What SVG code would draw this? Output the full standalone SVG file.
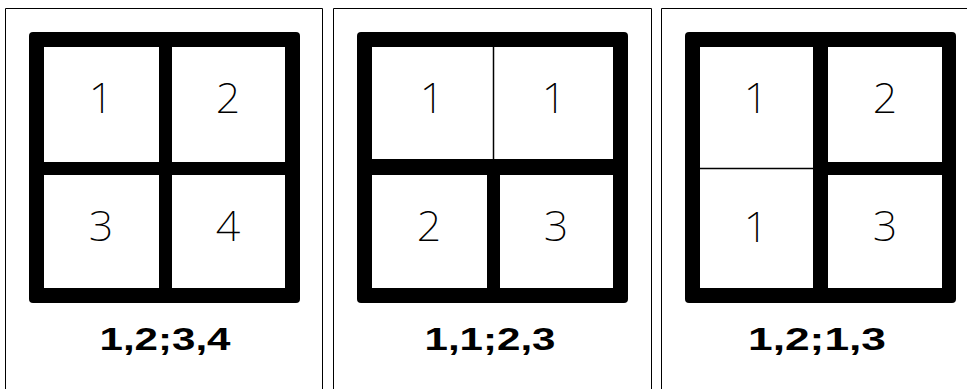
<svg xmlns="http://www.w3.org/2000/svg" width="967" height="389" viewBox="0 0 967 389">
<style>
.frame{fill:none;stroke:#000;stroke-width:1}
.cell{fill:#fff}
.d{font-family:"Noto Sans","Liberation Sans",sans-serif;font-weight:200;font-size:43px;text-anchor:middle;fill:#000}
.lbl{font-family:"Liberation Sans",Arial,sans-serif;font-weight:bold;font-size:31px;text-anchor:middle;fill:#000}
.thin{stroke:#000;stroke-width:1.5}
</style>
<rect width="967" height="389" fill="#fff"/>
<g id="panel1">
<path class="frame" d="M5.5 395V8.5H322.5V395"/>
<rect x="29" y="32" width="271" height="271" rx="4"/>
<rect class="cell" x="44" y="47" width="115" height="115"/>
<rect class="cell" x="172" y="47" width="113" height="115"/>
<rect class="cell" x="44" y="175" width="115" height="113"/>
<rect class="cell" x="172" y="175" width="113" height="113"/>
<text class="d" x="101" y="113">1</text>
<text class="d" x="228" y="113">2</text>
<text class="d" x="101" y="241">3</text>
<text class="d" x="228" y="241">4</text>
<text class="lbl" x="165" y="350" textLength="131" lengthAdjust="spacingAndGlyphs">1,2;3,4</text>
</g>
<g id="panel2">
<path class="frame" d="M333.5 395V8.5H651.5V395"/>
<rect x="357" y="32" width="271" height="271" rx="4"/>
<rect class="cell" x="372" y="47" width="241" height="112"/>
<line class="thin" x1="493.5" y1="47" x2="493.5" y2="159"/>
<rect class="cell" x="372" y="175" width="115" height="113"/>
<rect class="cell" x="500" y="175" width="113" height="113"/>
<text class="d" x="432" y="113">1</text>
<text class="d" x="554" y="113">1</text>
<text class="d" x="429" y="241">2</text>
<text class="d" x="556" y="241">3</text>
<text class="lbl" x="490" y="350" textLength="131" lengthAdjust="spacingAndGlyphs">1,1;2,3</text>
</g>
<g id="panel3">
<path class="frame" d="M661.5 395V8.5H975"/>
<rect x="685" y="32" width="271" height="271" rx="4"/>
<rect class="cell" x="700" y="47" width="113" height="241"/>
<line class="thin" x1="700" y1="168.5" x2="813" y2="168.5"/>
<rect class="cell" x="828" y="47" width="114" height="115"/>
<rect class="cell" x="828" y="175" width="114" height="113"/>
<text class="d" x="756" y="113">1</text>
<text class="d" x="885" y="113">2</text>
<text class="d" x="756" y="242">1</text>
<text class="d" x="885" y="241">3</text>
<text class="lbl" x="817" y="350" textLength="138" lengthAdjust="spacingAndGlyphs">1,2;1,3</text>
</g>
</svg>
